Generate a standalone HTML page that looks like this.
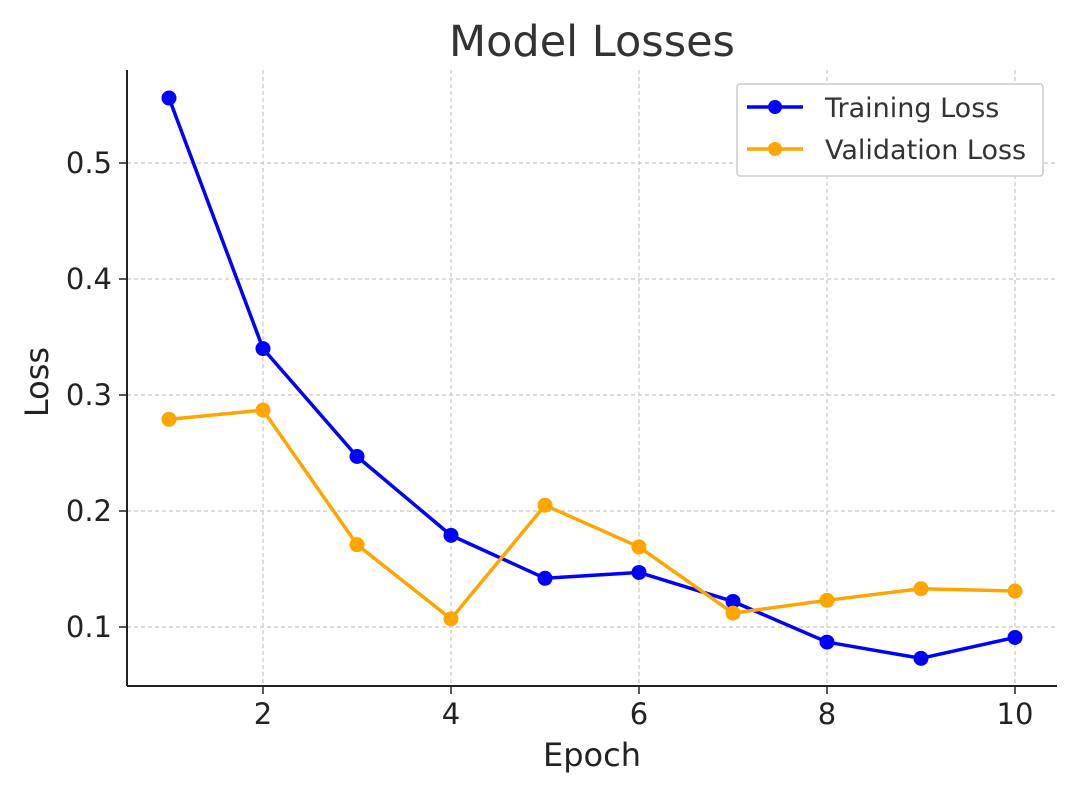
<!DOCTYPE html>
<html><head><meta charset="utf-8"><style>
html,body{margin:0;padding:0;background:#fff;}
svg{display:block;font-family:"DejaVu Sans","Liberation Sans",sans-serif;}
</style></head><body>
<svg id="chart" width="1077" height="793" viewBox="0 0 1077 793" xmlns="http://www.w3.org/2000/svg">
<text x="592" y="56" font-size="43" fill="#333" text-anchor="middle">Model Losses</text>
<g id="grid"></g>
<g id="series"></g>
<line x1="127" y1="70" x2="127" y2="686" stroke="#222" stroke-width="2"/>
<line x1="127" y1="686" x2="1057" y2="686" stroke="#222" stroke-width="2"/>
<g id="ticks"></g>
<text x="592" y="766" font-size="32" fill="#222" text-anchor="middle">Epoch</text>
<text x="48" y="382" font-size="32" fill="#222" text-anchor="middle" transform="rotate(-90 48 382)">Loss</text>
<g>
<rect x="737" y="84" width="306" height="92" fill="#fff" stroke="#ccc" stroke-width="1.5" rx="3"/>
<g>
<line x1="747" y1="107" x2="803" y2="107" stroke="#0000ff" stroke-width="3.5"/>
<circle cx="775" cy="107" r="7" fill="#0000ff"/>
<text x="825" y="117" font-size="27" fill="#333">Training Loss</text></g>
<g>
<line x1="747" y1="149" x2="803" y2="149" stroke="#ffa500" stroke-width="3.5"/>
<circle cx="775" cy="149" r="7" fill="#ffa500"/>
<text x="825" y="159" font-size="27" fill="#333">Validation Loss</text></g>
</g>
</svg>
<script>
const epochs=[1,2,3,4,5,6,7,8,9,10];
const trainingLoss=[0.556,0.340,0.247,0.179,0.142,0.147,0.122,0.087,0.073,0.091];
const validationLoss=[0.279,0.287,0.171,0.107,0.205,0.169,0.112,0.123,0.133,0.131];
const xTicks=[2,4,6,8,10];
const yTicks=[0.1,0.2,0.3,0.4,0.5];
const X=v=>169+(v-1)*94;
const Y=v=>627-(v-0.1)*1160;
const NS="http://www.w3.org/2000/svg";
const grid=document.getElementById('grid'),ticks=document.getElementById('ticks'),series=document.getElementById('series');
function mk(t,a,p){const e=document.createElementNS(NS,t);for(const k in a)e.setAttribute(k,a[k]);p.appendChild(e);return e;}
xTicks.forEach(t=>{
 const g=mk('line',{x1:X(t),x2:X(t),y1:70,y2:686,stroke:'#c8c8c8','stroke-width':1.2,'stroke-dasharray':'4,3'},grid);
 
 
 const tk=mk('line',{x1:X(t),x2:X(t),y1:686,y2:694,stroke:'#222','stroke-width':1.5},ticks);
 
 
 const l=mk('text',{x:X(t),y:724,'font-size':29,fill:'#222','text-anchor':'middle'},ticks);
 l.textContent=t;
 
 
});
yTicks.forEach(t=>{
 const g=mk('line',{x1:127,x2:1057,y1:Y(t),y2:Y(t),stroke:'#c8c8c8','stroke-width':1.2,'stroke-dasharray':'4,3'},grid);
 
 
 const tk=mk('line',{x1:119,x2:127,y1:Y(t),y2:Y(t),stroke:'#222','stroke-width':1.5},ticks);
 
 
 const l=mk('text',{x:112,y:Y(t)+10,'font-size':29,fill:'#222','text-anchor':'end'},ticks);
 l.textContent=t.toFixed(1);
 
 
});
function draw(vals,color,name){
 const pl=mk('polyline',{points:vals.map((v,i)=>X(epochs[i])+','+Y(v)).join(' '),fill:'none',stroke:color,'stroke-width':3.5,'stroke-linejoin':'round'},series);
 
 
 vals.forEach((v,i)=>{
  const c=mk('circle',{cx:X(epochs[i]),cy:Y(v),r:7.5,fill:color},series);
  
  
 });
}
draw(trainingLoss,'#0000ff','training-loss');
draw(validationLoss,'#ffa500','validation-loss');
</script>
</body></html>
